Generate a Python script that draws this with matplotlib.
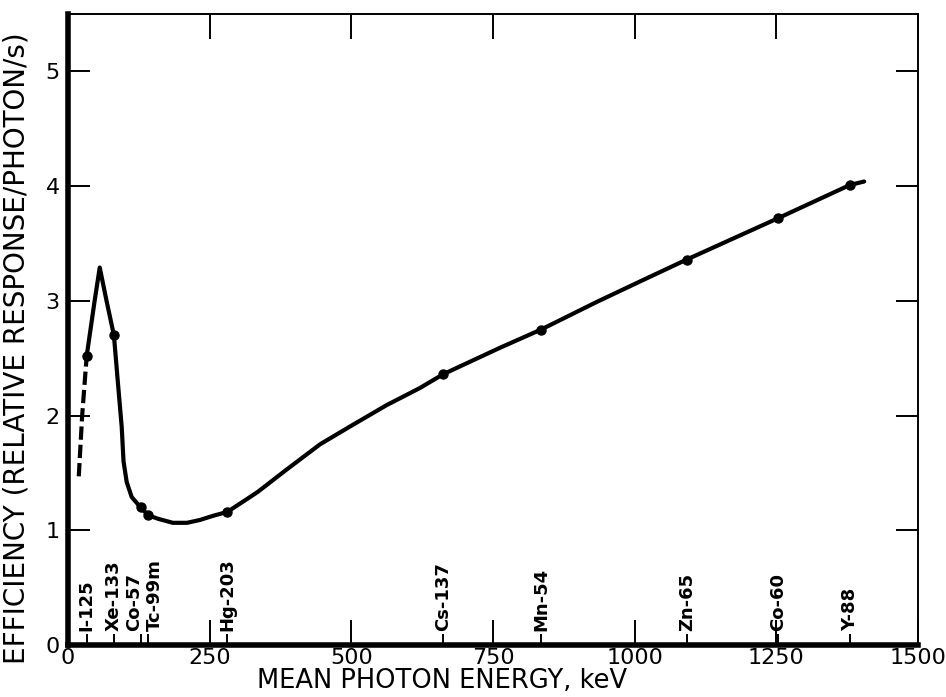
import matplotlib
matplotlib.use("Agg")
import matplotlib.pyplot as plt

# ---- data ----
nuclides = ['I-125', 'Xe-133', 'Co-57', 'Tc-99m', 'Hg-203',
            'Cs-137', 'Mn-54', 'Zn-65', 'Co-60', 'Y-88']
energies = [33, 81, 128, 142, 281, 662, 835, 1092, 1253, 1380]
efficiency = [2.52, 2.70, 1.20, 1.13, 1.16, 2.36, 2.75, 3.36, 3.72, 4.01]

# solid response curve
curve_x = [33, 47, 56, 68, 81, 88, 94.8, 98, 103.6, 112.4, 128, 142, 159, 185,
           210, 233, 256, 281, 309, 335, 386, 445, 503, 562, 621, 662, 762,
           835, 933, 1010, 1092, 1253, 1380, 1405]
curve_y = [2.52, 3.00, 3.29, 3.00, 2.70, 2.29, 1.90, 1.60, 1.42, 1.29, 1.20, 1.13,
           1.10, 1.065, 1.065, 1.09, 1.126, 1.16, 1.25, 1.335, 1.53, 1.75, 1.92,
           2.09, 2.24, 2.36, 2.59, 2.75, 2.99, 3.17, 3.36, 3.72, 4.01, 4.04]

# dashed extrapolation at low energy
dash_x = [19, 25, 33]
dash_y = [1.47, 2.00, 2.52]

x_ticks = [0, 250, 500, 750, 1000, 1250, 1500]
y_ticks = [0, 1, 2, 3, 4, 5]

# horizontal nudges (points) for crowded nuclide labels
label_dx = [0, 0, -4.6, 4.3, 0, 0, 0, 0, 0, 0]

W, H = 946, 697
fig = plt.figure(figsize=(W / 100, H / 100), dpi=100)
ax = fig.add_axes([68 / W, 1 - 645 / H, 850 / W, 631 / H])

ax.plot(curve_x, curve_y, color='black', lw=3.0, solid_joinstyle='round',
        solid_capstyle='round', zorder=3)
ax.plot(dash_x, dash_y, color='black', lw=3.0, linestyle=(0, (3.2, 1.2)), zorder=3)
ax.plot(energies, efficiency, 'o', color='black', ms=6.5, zorder=4)

ax.set_xlim(0, 1500)
ax.set_ylim(0, 5.5)
ax.set_xticks(x_ticks)
ax.set_xticklabels([str(v) for v in x_ticks])
ax.set_yticks(y_ticks)
ax.set_yticklabels([str(v) for v in y_ticks])

ax.tick_params(axis='x', which='major', direction='in', top=True, length=18,
               width=1.4, labelsize=16, pad=2)
ax.tick_params(axis='y', which='major', direction='in', right=True, length=16,
               width=1.4, labelsize=16, pad=6)

# nuclide marks as minor ticks on the bottom axis
ax.set_xticks(energies, minor=True)
ax.tick_params(axis='x', which='minor', direction='in', top=False, bottom=True,
               length=8, width=1.4)

for name, e, dx in zip(nuclides, energies, label_dx):
    ax.annotate(name, xy=(e, 0), xycoords=('data', 'axes fraction'),
                xytext=(dx, 10), textcoords='offset points', rotation=90,
                ha='center', va='bottom', fontsize=13, fontweight='bold')

for side in ('left', 'bottom'):
    ax.spines[side].set_linewidth(4.0)
for side in ('top', 'right'):
    ax.spines[side].set_linewidth(1.4)

ax.set_xlabel('MEAN PHOTON ENERGY, keV', fontsize=18.5)
ax.xaxis.set_label_coords(0.44, -0.077)
ax.xaxis.label.set_va('bottom')
ax.set_ylabel('EFFICIENCY (RELATIVE RESPONSE/PHOTON/s)', fontsize=20)
ax.yaxis.set_label_coords(-0.044, 0.47)

fig.savefig('out.png', dpi=100)
